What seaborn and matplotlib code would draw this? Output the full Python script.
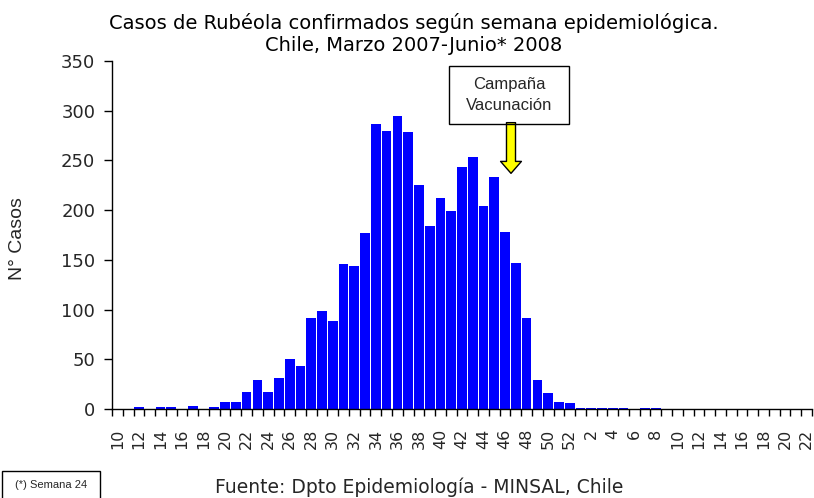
import matplotlib
matplotlib.use("Agg")
import matplotlib.pyplot as plt
import seaborn as sns
import pandas as pd
import numpy as np
from matplotlib.patches import Rectangle

# ---------------- data ----------------
weeks_2007 = list(range(10, 53))
weeks_2008 = list(range(1, 23))
week_labels = [str(w) for w in weeks_2007 + weeks_2008]

cases_2007 = [0, 0, 2, 0, 2, 2, 0, 3, 0, 2,
              7, 7, 17, 29, 17, 31, 50, 43, 92, 99,
              89, 146, 144, 177, 287, 280, 295, 279, 225, 184,
              212, 199, 243, 253, 204, 233, 178, 147, 92, 29,
              16, 7, 6]
cases_2008 = [1, 1, 1, 1, 1, 0, 1, 1, 0, 0,
              0, 0, 0, 0, 0, 0, 0, 0, 0, 0,
              0, 0]
cases = cases_2007 + cases_2008

title = "Casos de Rubéola confirmados según semana epidemiológica.\nChile, Marzo 2007-Junio* 2008"
ylabel = "N° Casos"
campaign_text = "Campaña\nVacunación"
campaign_pos = 36.55
campaign_top, campaign_tip = 288, 237
source_text = "Fuente: Dpto Epidemiología - MINSAL, Chile"
footnote_text = "(*) Semana 24"
yticks = [0, 50, 100, 150, 200, 250, 300, 350]

df = pd.DataFrame({"pos": list(range(len(cases))), "casos": cases})

# ---------------- plot ----------------
sns.set_style("white")
plt.rcParams["font.family"] = ["DejaVu Sans"]

W, H = 814, 498
fig = plt.figure(figsize=(W / 100, H / 100), dpi=100)
ax = fig.add_axes([112 / W, 1 - 409 / H, 700 / W, 348 / H])

sns.barplot(data=df, x="pos", y="casos", color="#0000FF", saturation=1,
            width=0.9, linewidth=0, ax=ax)

ax.set_xlim(-0.5, len(cases) - 0.5)
ax.set_ylim(0, 350)
ax.set_xlabel("")
ax.set_ylabel("")

# x ticks: marks at category boundaries, labels on every other category
ax.set_xticks(range(0, len(cases), 2))
ax.set_xticklabels(week_labels[::2], rotation=90, fontsize=11.5)
ax.set_xticks(np.arange(-0.5, len(cases), 1), minor=True)
ax.tick_params(axis="x", which="major", length=0, pad=14)
ax.tick_params(axis="x", which="minor", length=5, width=1, color="black",
               direction="out", bottom=True)

ax.set_yticks(yticks)
ax.set_yticklabels([str(v) for v in yticks], fontsize=13)
ax.tick_params(axis="y", length=6, width=1, color="black", direction="out",
               left=True, pad=6)

for s in ["top", "right"]:
    ax.spines[s].set_visible(False)
for s in ["left", "bottom"]:
    ax.spines[s].set_color("black")
    ax.spines[s].set_linewidth(1)

# titles / labels
fig.text(414 / W, 1 - 34 / H, title, ha="center", va="center",
         fontsize=14, linespacing=1.2, color="black")
fig.text(18 / W, 1 - 239 / H, ylabel, rotation=90, ha="center", va="center",
         fontsize=14, family=["Liberation Sans", "DejaVu Sans"])

# campaign annotation
fig.patches.append(Rectangle((449 / W, 1 - 124 / H), 120 / W, 58 / H,
                             transform=fig.transFigure, fill=False,
                             edgecolor="black", linewidth=1))
fig.text(509 / W, 1 - 95 / H, campaign_text, ha="center", va="center",
         fontsize=12, linespacing=1.45,
         family=["Liberation Sans", "DejaVu Sans"])
ax.annotate("", xy=(campaign_pos, campaign_tip), xytext=(campaign_pos, campaign_top),
            arrowprops=dict(arrowstyle="simple,head_length=0.86,head_width=1.5,tail_width=0.65",
                            fc="#FFFF00", ec="black", lw=1,
                            shrinkA=0, shrinkB=0),
            annotation_clip=False)

# footnote box & source
fig.patches.append(Rectangle((2 / W, -0.02), 98 / W, 0.02 + 27 / H,
                             transform=fig.transFigure, fill=False,
                             edgecolor="black", linewidth=1))
fig.text(51 / W, 1 - 485 / H, footnote_text, ha="center", va="center",
         fontsize=8, family=["Liberation Sans Narrow", "Liberation Sans"])
fig.text(419 / W, 1 - 487 / H, source_text, ha="center", va="center",
         fontsize=13.5)

fig.savefig("out.png", dpi=100)
